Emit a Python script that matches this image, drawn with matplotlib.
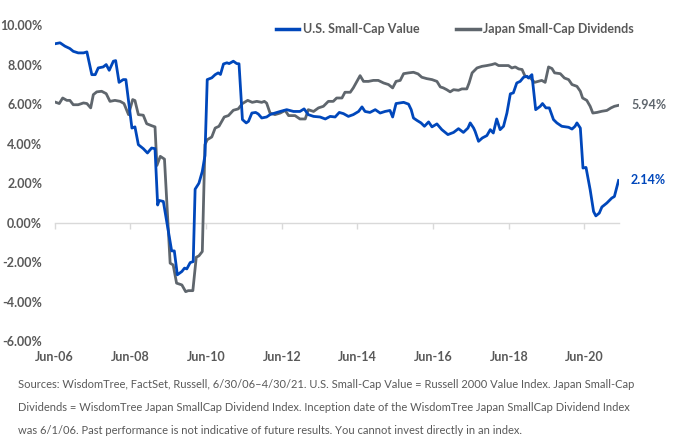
import matplotlib
matplotlib.use('Agg')
import matplotlib.pyplot as plt
from matplotlib.lines import Line2D

# ---------------- data (decimal year, percent) ----------------
us_t = [2006.53, 2006.64, 2006.77, 2006.90, 2006.99, 2007.12, 2007.26, 2007.35, 2007.48, 2007.57,
        2007.65, 2007.78, 2007.86, 2007.94, 2008.05, 2008.11, 2008.20, 2008.31, 2008.38, 2008.54,
        2008.62, 2008.71, 2008.84, 2008.95, 2009.06, 2009.15, 2009.22, 2009.26, 2009.37, 2009.59,
        2009.66, 2009.74, 2009.86, 2009.93, 2009.99, 2010.08, 2010.16, 2010.21, 2010.31, 2010.40,
        2010.47, 2010.53, 2010.65, 2010.74, 2010.82, 2010.88, 2010.96, 2011.05, 2011.11, 2011.22,
        2011.31, 2011.37, 2011.46, 2011.56, 2011.62, 2011.71, 2011.81, 2011.88, 2011.97, 2012.10,
        2012.19, 2012.32, 2012.46, 2012.63, 2012.81, 2012.98, 2013.09, 2013.20, 2013.34, 2013.51,
        2013.65, 2013.78, 2013.91, 2014.02, 2014.13, 2014.26, 2014.39, 2014.53, 2014.62, 2014.70,
        2014.83, 2014.97, 2015.10, 2015.23, 2015.36, 2015.43, 2015.52, 2015.63, 2015.72, 2015.85,
        2015.92, 2015.98, 2016.07, 2016.18, 2016.27, 2016.38, 2016.47, 2016.60, 2016.73, 2016.89,
        2017.04, 2017.17, 2017.30, 2017.42, 2017.48, 2017.57, 2017.61, 2017.70, 2017.80, 2017.92,
        2018.01, 2018.09, 2018.18, 2018.27, 2018.36, 2018.45, 2018.54, 2018.62, 2018.71, 2018.80,
        2018.89, 2018.98, 2019.02, 2019.11, 2019.21, 2019.33, 2019.39, 2019.48, 2019.57, 2019.68,
        2019.77, 2019.90, 2020.08, 2020.17, 2020.25, 2020.30, 2020.39, 2020.46, 2020.54, 2020.65,
        2020.74, 2020.80, 2020.89, 2020.96, 2021.09, 2021.22, 2021.29, 2021.40]
us_v = [9.06, 9.10, 8.93, 8.81, 8.67, 8.59, 8.59, 8.64, 7.49, 7.49,
        7.83, 7.88, 8.00, 7.71, 8.17, 8.20, 7.10, 7.24, 7.24, 4.79,
        4.85, 3.95, 3.75, 3.53, 3.78, 3.75, 0.90, 1.13, 1.08, -1.42,
        -1.42, -2.63, -2.46, -2.29, -2.33, -2.01, -1.96, 1.70, 2.00, 2.60,
        3.40, 7.24, 7.33, 7.49, 7.58, 7.50, 8.03, 8.09, 8.05, 8.17,
        8.05, 8.04, 5.22, 5.05, 5.13, 5.55, 5.58, 5.50, 5.30, 5.35,
        5.47, 5.55, 5.63, 5.72, 5.63, 5.63, 5.76, 5.47, 5.38, 5.35,
        5.25, 5.38, 5.35, 5.58, 5.52, 5.38, 5.47, 5.63, 5.86, 5.63,
        5.58, 5.72, 5.55, 5.63, 5.68, 5.35, 6.03, 6.06, 6.09, 6.00,
        5.72, 5.30, 5.18, 5.05, 4.88, 5.10, 4.85, 5.00, 4.71, 4.46,
        4.57, 4.76, 4.57, 4.79, 5.05, 4.79, 4.62, 4.12, 4.29, 4.41,
        4.71, 4.54, 5.25, 4.71, 4.88, 5.55, 6.52, 6.57, 7.07, 7.15,
        7.36, 7.41, 7.32, 7.49, 5.72, 5.89, 6.03, 5.81, 5.81, 5.22,
        5.05, 4.88, 4.83, 4.74, 4.88, 5.05, 4.79, 2.77, 2.80, 1.67,
        0.57, 0.35, 0.49, 0.80, 1.00, 1.25, 1.33, 2.14]

jp_t = [2006.53, 2006.62, 2006.71, 2006.82, 2006.90, 2006.99, 2007.12, 2007.26, 2007.35, 2007.45,
        2007.52, 2007.61, 2007.74, 2007.86, 2007.96, 2008.09, 2008.23, 2008.33, 2008.45, 2008.56,
        2008.62, 2008.71, 2008.84, 2008.93, 2009.06, 2009.15, 2009.20, 2009.29, 2009.40, 2009.55,
        2009.63, 2009.72, 2009.86, 2009.96, 2010.03, 2010.15, 2010.24, 2010.31, 2010.40, 2010.47,
        2010.53, 2010.65, 2010.74, 2010.84, 2010.98, 2011.09, 2011.22, 2011.35, 2011.46, 2011.60,
        2011.72, 2011.84, 2011.97, 2012.04, 2012.10, 2012.19, 2012.32, 2012.46, 2012.59, 2012.68,
        2012.85, 2012.98, 2013.12, 2013.20, 2013.34, 2013.47, 2013.60, 2013.73, 2013.86, 2013.95,
        2014.09, 2014.17, 2014.31, 2014.39, 2014.50, 2014.57, 2014.66, 2014.79, 2014.92, 2015.05,
        2015.19, 2015.32, 2015.43, 2015.52, 2015.63, 2015.72, 2015.85, 2015.98, 2016.10, 2016.20,
        2016.33, 2016.47, 2016.60, 2016.69, 2016.77, 2016.86, 2016.95, 2017.04, 2017.17, 2017.26,
        2017.39, 2017.45, 2017.53, 2017.66, 2017.79, 2017.92, 2018.05, 2018.14, 2018.23, 2018.36,
        2018.49, 2018.58, 2018.67, 2018.76, 2018.85, 2018.93, 2019.07, 2019.18, 2019.28, 2019.37,
        2019.46, 2019.55, 2019.64, 2019.71, 2019.86, 2019.97, 2020.08, 2020.17, 2020.30, 2020.39,
        2020.45, 2020.56, 2020.65, 2020.72, 2020.83, 2020.96, 2021.09, 2021.20, 2021.29, 2021.40]
jp_v = [6.09, 6.03, 6.31, 6.19, 6.19, 5.97, 5.97, 6.06, 6.03, 5.81,
        6.48, 6.62, 6.65, 6.53, 6.14, 6.19, 6.14, 6.03, 5.47, 6.23,
        6.18, 5.47, 5.44, 5.01, 4.91, 4.85, 2.90, 3.36, 3.22, -2.04,
        -2.13, -3.05, -3.14, -3.48, -3.43, -3.43, -1.74, -1.67, -1.45, 3.95,
        4.20, 4.34, 4.79, 4.88, 5.35, 5.42, 5.69, 5.76, 6.03, 6.19,
        6.09, 6.14, 6.09, 6.14, 6.05, 5.55, 5.47, 5.55, 5.68, 5.42,
        5.42, 5.25, 5.25, 5.72, 5.63, 5.81, 5.89, 6.14, 6.14, 6.31,
        6.31, 6.60, 6.60, 6.82, 7.20, 7.44, 7.15, 7.15, 7.20, 7.20,
        7.07, 6.99, 6.82, 7.15, 7.20, 7.54, 7.58, 7.61, 7.53, 7.36,
        7.29, 7.24, 7.15, 6.87, 6.82, 6.73, 6.62, 6.73, 6.70, 6.77,
        6.77, 7.07, 7.58, 7.83, 7.91, 7.95, 8.00, 8.05, 7.95, 7.95,
        7.95, 7.83, 7.88, 7.78, 7.75, 7.41, 7.32, 7.10, 7.15, 7.20,
        7.10, 7.88, 7.80, 7.58, 7.54, 7.32, 7.24, 6.99, 6.90, 6.65,
        6.31, 6.19, 5.89, 5.55, 5.58, 5.64, 5.68, 5.81, 5.89, 5.94]

series_names = ['U.S. Small-Cap Value', 'Japan Small-Cap Dividends']
xtick_pos = [2006.5, 2008.5, 2010.5, 2012.5, 2014.5, 2016.5, 2018.5, 2020.5]
xtick_labels = ['Jun-06', 'Jun-08', 'Jun-10', 'Jun-12', 'Jun-14', 'Jun-16', 'Jun-18', 'Jun-20']
ytick_vals = [-6, -4, -2, 0, 2, 4, 6, 8, 10]
footnote = [
    "Sources: WisdomTree, FactSet, Russell, 6/30/06\u20134/30/21. U.S. Small-Cap Value = Russell 2000 Value Index. Japan Small-Cap",
    "Dividends = WisdomTree Japan SmallCap Dividend Index. Inception date of the WisdomTree Japan SmallCap Dividend Index",
    "was 6/1/06. Past performance is not indicative of future results. You cannot invest directly in an index.",
]

# ---------------- style ----------------
BLUE = '#0047bb'
GREY = '#5f666d'
TXT = '#595959'
LIGHT = '#d9d9d9'
FONT = 'Lato'

fig = plt.figure(figsize=(6.85, 4.45), dpi=100)
ax = fig.add_axes([0.0799, 0.2326, 0.8242, 0.7112])

ax.plot(jp_t, jp_v, color=GREY, lw=2.0, solid_joinstyle='round', zorder=3)
ax.plot(us_t, us_v, color=BLUE, lw=2.0, solid_joinstyle='round', zorder=4)

ax.set_xlim(2006.5, 2021.42)
ax.set_ylim(-6, 10)

for s in ['top', 'right', 'left']:
    ax.spines[s].set_visible(False)
ax.spines['bottom'].set_position(('data', 0))
ax.spines['bottom'].set_color(LIGHT)
ax.spines['bottom'].set_linewidth(1.0)

ax.set_xticks(xtick_pos)
ax.tick_params(axis='x', length=4, width=1, color=LIGHT, direction='out', labelbottom=False)

sec = ax.secondary_xaxis('bottom')
sec.set_xticks(xtick_pos, xtick_labels)
sec.tick_params(length=0, pad=7)
sec.spines['bottom'].set_visible(False)
for lab in sec.get_xticklabels():
    lab.set_fontfamily(FONT)
    lab.set_fontweight('bold')
    lab.set_fontsize(9)
    lab.set_color(TXT)

ax.set_yticks(ytick_vals, [f'{v:.2f}%' for v in ytick_vals])
ax.tick_params(axis='y', length=0, pad=9)
for lab in ax.get_yticklabels():
    lab.set_fontfamily(FONT)
    lab.set_fontweight('bold')
    lab.set_fontsize(9)
    lab.set_color(TXT)

# end labels
ax.annotate(f'{us_v[-1]:.2f}%', xy=(us_t[-1], us_v[-1]), xytext=(9, 0), textcoords='offset points',
            va='center', ha='left', color=BLUE, fontfamily=FONT, fontweight='bold', fontsize=9,
            annotation_clip=False)
ax.annotate(f'{jp_v[-1]:.2f}%', xy=(jp_t[-1], jp_v[-1]), xytext=(9, 0), textcoords='offset points',
            va='center', ha='left', color=GREY, fontfamily=FONT, fontweight='bold', fontsize=9,
            annotation_clip=False)

# legend
handles = [Line2D([], [], color=BLUE, lw=2.5), Line2D([], [], color=GREY, lw=2.5)]
leg = fig.legend(handles, series_names, loc='center', bbox_to_anchor=(0.664, 0.935), ncol=2,
                 frameon=False, handlelength=1.9, handletextpad=0.3, columnspacing=2.9,
                 prop={'family': FONT, 'weight': 'bold', 'size': 9})
for t in leg.get_texts():
    t.set_color(TXT)

# footnote
for i, line in enumerate(footnote):
    fig.text(0.026, 1 - (385 + 22.5 * i) / 445, line, ha='left', va='center',
             fontfamily=FONT, fontsize=8.05, color=TXT)

fig.savefig('out.png', dpi=100)
